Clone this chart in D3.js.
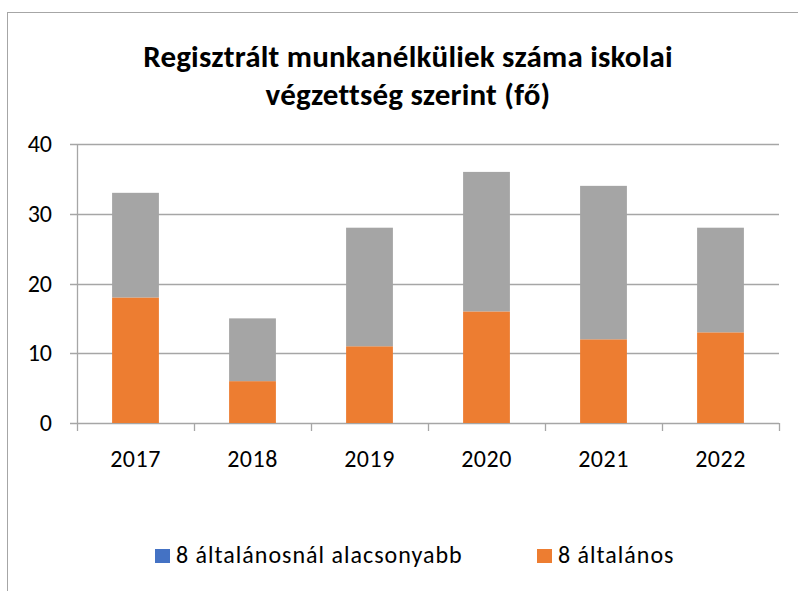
<!DOCTYPE html>
<html>
<head>
<meta charset="utf-8">
<script src="https://cdn.jsdelivr.net/npm/d3@7"></script>
<style>
  body { margin: 0; background: #fff; }
  svg { display: block; font-family: Carlito, Lato, "Open Sans", sans-serif; }
</style>
</head>
<body>
<div id="chart"></div>
<script>
const years = ["2017", "2018", "2019", "2020", "2021", "2022"];
const belowEight = [0, 0, 0, 0, 0, 0];
const eightGrade = [18, 6, 11, 16, 12, 13];
const higher = [15, 9, 17, 20, 22, 15];
const seriesNames = ["8 általánosnál alacsonyabb", "8 általános", "egyéb"];
const seriesColors = ["#4472C4", "#ED7D31", "#A5A5A5"];
const legendNames = ["8 általánosnál alacsonyabb", "8 általános"];
const yTicks = [0, 10, 20, 30, 40];
const titleLines = ["Regisztrált munkanélküliek száma iskolai", "végzettség szerint (fő)"];

const W = 798, H = 591;
const margin = {top: 144, right: 19, bottom: 168, left: 77};

const svg = d3.select("#chart").append("svg")
  .attr("width", W).attr("height", H);

// chart frame
svg.append("rect")
  .attr("x", 7.5).attr("y", 12.5)
  .attr("width", W + 20).attr("height", H + 20)
  .attr("fill", "none").attr("stroke", "#A6A6A6").attr("stroke-width", 1);

svg.selectAll(".title")
  .data(titleLines)
  .enter().append("text")
  .attr("class", "title")
  .attr("x", 408)
  .attr("y", (d, i) => 67 + i * 38)
  .attr("text-anchor", "middle")
  .style("font-size", "31px")
  .style("font-weight", "bold")
  .style("letter-spacing", "0.2px")
  .style("fill", "#000")
  .text(d => d);

const rows = years.map((y, i) => ({year: y, s0: belowEight[i], s1: eightGrade[i], s2: higher[i]}));
const stack = d3.stack().keys(["s0", "s1", "s2"])(rows);

const x = d3.scaleBand().domain(years).range([margin.left, W - margin.right]).paddingInner(0.6).paddingOuter(0.3);
const xc = d3.scaleBand().domain(years).range([margin.left, W - margin.right]);
const y = d3.scaleLinear().domain([0, 40]).range([H - margin.bottom, margin.top]);

// gridlines
svg.append("g")
  .selectAll("line")
  .data(yTicks)
  .enter().append("line")
  .attr("x1", margin.left - 7).attr("x2", W - margin.right)
  .attr("y1", d => Math.round(y(d)) + 0.5).attr("y2", d => Math.round(y(d)) + 0.5)
  .attr("stroke", "#A6A6A6").attr("stroke-width", 1.3);

// y axis line
svg.append("line")
  .attr("x1", margin.left + 0.5).attr("x2", margin.left + 0.5)
  .attr("y1", y(40)).attr("y2", y(0))
  .attr("stroke", "#A6A6A6").attr("stroke-width", 1.3);

// x tick marks at category boundaries
const bounds = years.map(d => xc(d)).concat([W - margin.right]);
svg.append("g")
  .selectAll("line")
  .data(bounds)
  .enter().append("line")
  .attr("x1", d => Math.round(d) + 0.5).attr("x2", d => Math.round(d) + 0.5)
  .attr("y1", y(0)).attr("y2", y(0) + 8)
  .attr("stroke", "#A6A6A6").attr("stroke-width", 1.3);

svg.append("g")
  .selectAll("text")
  .data(yTicks)
  .enter().append("text")
  .attr("x", 52)
  .attr("y", d => y(d) + 8)
  .attr("text-anchor", "end")
  .style("font-size", "24px")
  .text(d => d);

svg.append("g")
  .selectAll("text")
  .data(years)
  .enter().append("text")
  .attr("x", d => xc(d) + xc.bandwidth() / 2)
  .attr("y", 467)
  .attr("text-anchor", "middle")
  .style("font-size", "24px")
  .style("letter-spacing", "0.5px")
  .text(d => d);

// bars
svg.append("g")
  .selectAll("g")
  .data(stack)
  .enter().append("g")
  .attr("fill", (d, i) => seriesColors[i])
  .selectAll("rect")
  .data(d => d)
  .enter().append("rect")
  .attr("x", d => x(d.data.year))
  .attr("width", x.bandwidth())
  .attr("y", d => y(d[1]))
  .attr("height", d => y(d[0]) - y(d[1]));

// legend
const legendX = [155, 537];
const legend = svg.append("g");
legend.selectAll("rect")
  .data(legendNames)
  .enter().append("rect")
  .attr("x", (d, i) => legendX[i]).attr("y", 549)
  .attr("width", 15).attr("height", 14)
  .attr("fill", (d, i) => seriesColors[i]);
legend.selectAll("text")
  .data(legendNames)
  .enter().append("text")
  .attr("x", (d, i) => legendX[i] + 21).attr("y", 563)
  .style("font-size", "24px")
  .style("letter-spacing", "1px")
  .text(d => d);
</script>
</body>
</html>
